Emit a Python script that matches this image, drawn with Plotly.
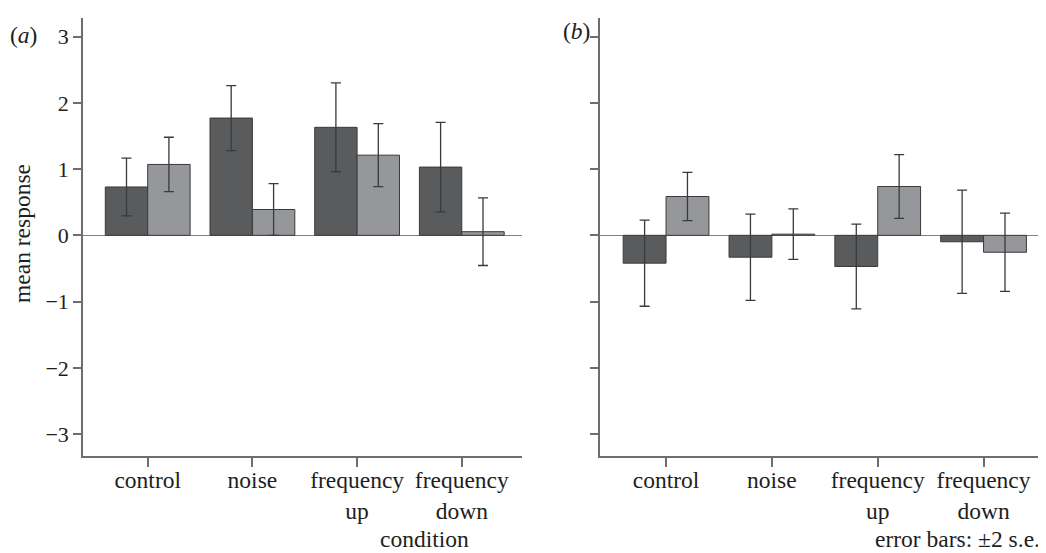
import plotly.graph_objects as go

categories = ["control", "noise", "frequency<br>up", "frequency<br>down"]
ytick_vals = [-3, -2, -1, 0, 1, 2, 3]
ytick_text = ["\u22123", "\u22122", "\u22121", "0", "1", "2", "3"]

# panel (a)
a_dark = [0.73, 1.77, 1.63, 1.03]
a_dark_err = [0.435, 0.49, 0.67, 0.675]
a_light = [1.07, 0.39, 1.21, 0.055]
a_light_err = [0.41, 0.39, 0.475, 0.51]

# panel (b)
b_dark = [-0.42, -0.33, -0.47, -0.097]
b_dark_err = [0.65, 0.65, 0.64, 0.78]
b_light = [0.586, 0.018, 0.737, -0.255]
b_light_err = [0.363, 0.38, 0.48, 0.59]

DARK = "#5a5b5d"
LIGHT = "#96979a"
OUTLINE = "#3a3a3a"
ERR = "#3a3a3a"
AXIS = "#6e6e6e"
TXT = "#1e1e1e"
FONT = "Liberation Serif"

xpos = list(range(len(categories)))

fig = go.Figure()

def add_bar(y, err, color, xa, ya):
    fig.add_trace(go.Bar(
        x=xpos, y=y, xaxis=xa, yaxis=ya,
        marker=dict(color=color, line=dict(color=OUTLINE, width=1)),
        error_y=dict(type="data", array=err, visible=True, color=ERR, thickness=1.3, width=5),
        showlegend=False,
    ))

add_bar(a_dark, a_dark_err, DARK, "x", "y")
add_bar(a_light, a_light_err, LIGHT, "x", "y")
add_bar(b_dark, b_dark_err, DARK, "x2", "y2")
add_bar(b_light, b_light_err, LIGHT, "x2", "y2")

# page has an 8px body margin; figure occupies page pixels 8..1046, 8..553
OFF = 8
W, H = 1046 - OFF, 553 - OFF
L, R, T, B = 83 - OFF, 0, 18 - OFF, 97
pw = W - L - R
ph = H - T - B

xcommon = dict(
    tickmode="array", tickvals=xpos, ticktext=categories,
    showline=True, linecolor=AXIS, linewidth=1.5,
    ticks="outside", ticklen=9, tickwidth=1.5, tickcolor=AXIS,
    showgrid=False, zeroline=False,
    tickfont=dict(family=FONT, size=23.5, color=TXT),
    ticklabelstandoff=-7,
    automargin=False, fixedrange=True,
)
ycommon = dict(
    range=[-3.33, 3.28], tickvals=ytick_vals,
    showline=True, linecolor=AXIS, linewidth=1.5,
    ticks="outside", ticklen=8, tickwidth=1.5, tickcolor=AXIS,
    showgrid=False, zeroline=True, zerolinecolor="#808080", zerolinewidth=1,
    tickfont=dict(family=FONT, size=22, color=TXT),
    automargin=False, fixedrange=True,
)

def px_x(px):
    return (px - OFF - L) / pw

def px_y(py):
    return (H - B - (py - OFF)) / ph

fig.update_layout(
    width=W, height=H,
    margin=dict(l=L, r=R, t=T, b=B),
    paper_bgcolor="white", plot_bgcolor="white",
    barmode="group", bargap=0.19, bargroupgap=0,
    xaxis=dict(domain=[0, px_x(522)], range=[-0.618, 3.575], anchor="y", **xcommon),
    xaxis2=dict(domain=[px_x(600), 1], range=[-0.624, 3.59], anchor="y2", **xcommon),
    yaxis=dict(anchor="x", ticktext=ytick_text, showticklabels=True, **ycommon),
    yaxis2=dict(anchor="x2", showticklabels=False, **ycommon),
    font=dict(family=FONT, size=23.5, color=TXT),
)

annots = [
    dict(text="(<i>a</i>)", x=px_x(23), y=px_y(35)),
    dict(text="(<i>b</i>)", x=px_x(576), y=px_y(31)),
    dict(text="mean response", x=px_x(22), y=px_y(234), textangle=-90),
    dict(text="condition", x=px_x(424), y=px_y(539)),
    dict(text="error bars: \u00b12 s.e.", x=px_x(1042), y=px_y(539), xanchor="right"),
]
for a in annots:
    base = dict(xref="paper", yref="paper", showarrow=False,
                font=dict(family=FONT, size=23.5, color=TXT),
                xanchor="center", yanchor="middle")
    base.update(a)
    fig.add_annotation(**base)

fig.write_html("out.html")
